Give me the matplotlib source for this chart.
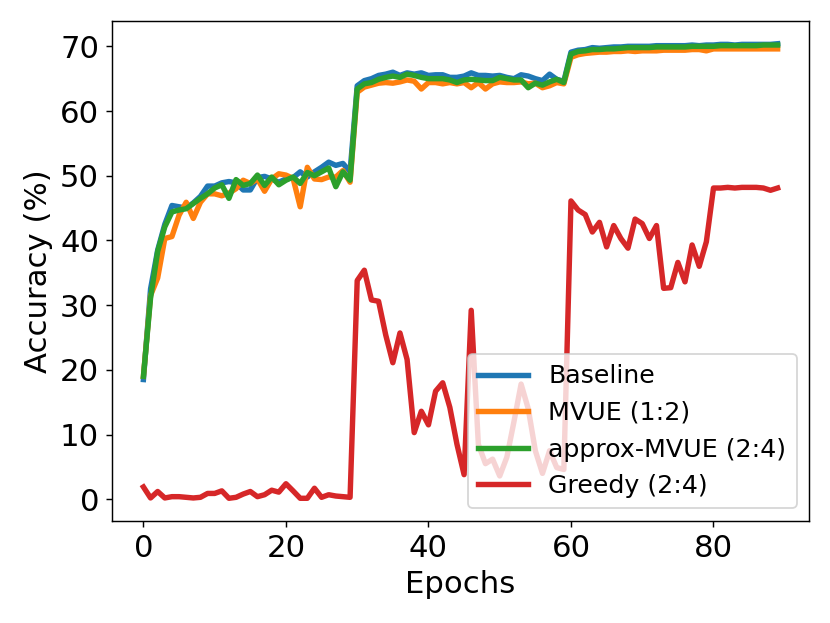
import matplotlib
matplotlib.use("Agg")
import matplotlib.pyplot as plt
import numpy as np

# accuracy (%) per epoch
baseline = [
    18.5, 32.5, 38.5, 42.5, 45.4, 45.2, 45.0, 45.8, 46.8, 48.4,
    48.4, 48.9, 49.1, 48.9, 47.8, 47.8, 49.7, 49.9, 49.5, 49.0,
    49.5, 49.7, 50.6, 49.8, 50.6, 51.3, 52.1, 51.6, 51.9, 50.6,
    63.9, 64.7, 65.0, 65.5, 65.7, 66.0, 65.5, 65.9, 65.7, 65.9,
    65.5, 65.6, 65.6, 65.2, 65.2, 65.4, 65.9, 65.5, 65.5, 65.4,
    65.5, 65.2, 65.0, 65.6, 65.4, 65.0, 64.7, 65.7, 64.9, 64.6,
    69.1, 69.4, 69.5, 69.8, 69.7, 69.8, 69.9, 69.9, 70.0, 70.0,
    70.0, 70.0, 70.1, 70.1, 70.1, 70.1, 70.1, 70.2, 70.1, 70.2,
    70.2, 70.3, 70.3, 70.2, 70.3, 70.3, 70.3, 70.3, 70.3, 70.4,
]
mvue = [
    19.0, 31.5, 34.2, 40.3, 40.6, 43.9, 45.9, 43.4, 45.9, 47.2,
    47.2, 46.9, 47.3, 48.0, 49.3, 48.8, 49.5, 47.6, 49.5, 50.3,
    50.1, 49.6, 45.2, 51.3, 49.5, 49.4, 49.8, 49.8, 50.8, 49.0,
    62.9, 63.7, 64.0, 64.3, 64.4, 64.3, 64.5, 64.8, 64.6, 63.4,
    64.4, 64.4, 64.2, 64.4, 64.2, 64.4, 63.6, 64.4, 63.4, 64.2,
    64.5, 64.4, 64.4, 64.5, 64.2, 64.3, 63.6, 63.9, 64.4, 64.2,
    68.3, 68.7, 68.9, 69.0, 69.1, 69.1, 69.2, 69.2, 69.3, 69.2,
    69.3, 69.3, 69.3, 69.4, 69.4, 69.4, 69.4, 69.5, 69.5, 69.3,
    69.6, 69.6, 69.6, 69.6, 69.6, 69.6, 69.6, 69.6, 69.6, 69.6,
]
approx_mvue = [
    19.0, 31.1, 38.3, 42.1, 44.4, 44.7, 44.9, 45.7, 46.5, 47.2,
    48.1, 48.6, 46.5, 49.4, 48.5, 48.8, 50.1, 48.5, 49.8, 48.6,
    49.3, 49.8, 48.8, 50.5, 50.0, 50.6, 51.2, 48.3, 50.6, 49.3,
    63.4, 64.2, 64.4, 64.9, 65.2, 65.4, 65.2, 65.7, 65.5, 65.2,
    65.0, 65.0, 65.0, 64.8, 64.4, 64.8, 64.9, 64.8, 64.7, 64.7,
    65.2, 65.0, 64.8, 64.8, 63.6, 64.3, 64.0, 64.5, 64.9, 64.4,
    68.8, 69.2, 69.3, 69.5, 69.5, 69.6, 69.6, 69.7, 69.8, 69.8,
    69.8, 69.8, 69.9, 69.9, 69.9, 69.9, 69.9, 70.0, 70.0, 70.0,
    70.0, 70.1, 70.1, 70.1, 70.1, 70.1, 70.1, 70.2, 70.2, 70.2,
]
greedy = [
    1.9, 0.2, 1.2, 0.2, 0.4, 0.4, 0.3, 0.2, 0.3, 0.9,
    0.9, 1.3, 0.15, 0.3, 0.8, 1.2, 0.4, 0.7, 1.4, 1.1,
    2.4, 1.3, 0.15, 0.15, 1.7, 0.3, 0.7, 0.5, 0.4, 0.3,
    33.8, 35.4, 30.8, 30.6, 25.4, 21.1, 25.7, 21.6, 10.3, 13.6,
    11.5, 16.7, 18.0, 14.2, 8.5, 3.8, 29.2, 8.5, 5.5, 6.2,
    3.6, 6.5, 12.0, 17.8, 14.0, 7.5, 4.0, 7.5, 4.9, 4.6,
    46.1, 44.7, 44.0, 41.3, 42.8, 39.0, 42.3, 40.3, 38.8, 43.3,
    42.6, 40.3, 42.3, 32.6, 32.7, 36.6, 33.6, 39.3, 36.0, 39.8,
    48.1, 48.1, 48.2, 48.1, 48.2, 48.2, 48.2, 48.1, 47.75, 48.1,
]
epochs = np.arange(len(baseline))

SERIES = [
    ("Baseline", baseline, "#1f77b4"),
    ("MVUE (1:2)", mvue, "#ff7f0e"),
    ("approx-MVUE (2:4)", approx_mvue, "#2ca02c"),
    ("Greedy (2:4)", greedy, "#d62728"),
]

DPI = 130
fig = plt.figure(figsize=(830 / DPI, 623 / DPI), dpi=DPI)
ax = fig.add_axes([0.1346, 0.1637, 0.8405, 0.8026])

for label, vals, color in SERIES:
    ax.plot(epochs, vals, color=color, lw=3, label=label)

ax.set_xticks([0, 20, 40, 60, 80])
ax.set_yticks(range(0, 71, 10))
ax.tick_params(labelsize=17)
ax.set_xlabel("Epochs", fontsize=17)
ax.set_ylabel("Accuracy (%)", fontsize=17)
ax.legend(loc="lower right", fontsize=14)

fig.savefig("out.png", dpi=DPI)
